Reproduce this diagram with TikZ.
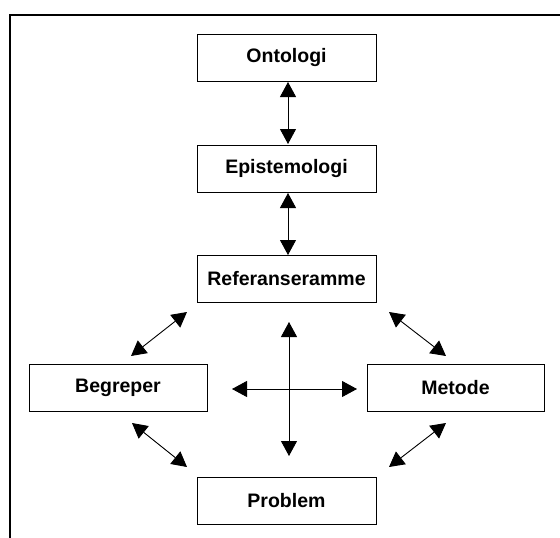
\documentclass[tikz,border=0pt]{standalone}
\usepackage{fontspec}
\setmainfont{Liberation Sans}
\usetikzlibrary{arrows.meta}
\begin{document}
\begin{tikzpicture}[x=1pt,y=-1pt,
  box/.style={draw=black,line width=0.8pt,minimum height=47pt,inner sep=0pt,
    font=\fontsize{19.5}{23}\selectfont\bfseries},
  link/.style={line width=0.9pt,{Triangle[length=15pt,width=16pt]}-{Triangle[length=15pt,width=16pt]}}]
\useasboundingbox (0,0) rectangle (560,538);
\draw[line width=2pt] (10.3,538) -- (10.3,15) -- (560,15);
\node[box,minimum width=179pt] (onto) at (286.5,57.5) {Ontologi};
\node[box,minimum width=179pt] (epi) at (286.5,168.5) {Epistemologi};
\node[box,minimum width=179pt] (ref) at (286.5,279) {Referanseramme};
\node[box,minimum width=178pt] (beg) at (118,387.5) {Begreper};
\node[box,minimum width=177pt] (met) at (455.5,387.5) {Metode};
\node[box,minimum width=179pt] (prob) at (286.5,500.5) {Problem};
% vertical links
\coordinate (a1) at (288,82);  \coordinate (a2) at (288,144);
\coordinate (b1) at (288,193); \coordinate (b2) at (288,255);
\draw[link] (a1) -- (a2);
\draw[link] (b1) -- (b2);
% diagonals
\coordinate (tl1) at (187,312); \coordinate (tl2) at (131,356);
\coordinate (tr1) at (389,312); \coordinate (tr2) at (446,356);
\coordinate (bl1) at (132,423); \coordinate (bl2) at (187,467);
\coordinate (br1) at (446,423); \coordinate (br2) at (389,467);
\draw[link] (tl1) -- (tl2);
\draw[link] (tr1) -- (tr2);
\draw[link] (bl1) -- (bl2);
\draw[link] (br1) -- (br2);
% cross
\coordinate (cw) at (232,389); \coordinate (ce) at (357,389);
\coordinate (cn) at (289,322); \coordinate (cs) at (289,456);
\draw[link] (cw) -- (ce);
\draw[link] (cn) -- (cs);
\end{tikzpicture}
\end{document}
